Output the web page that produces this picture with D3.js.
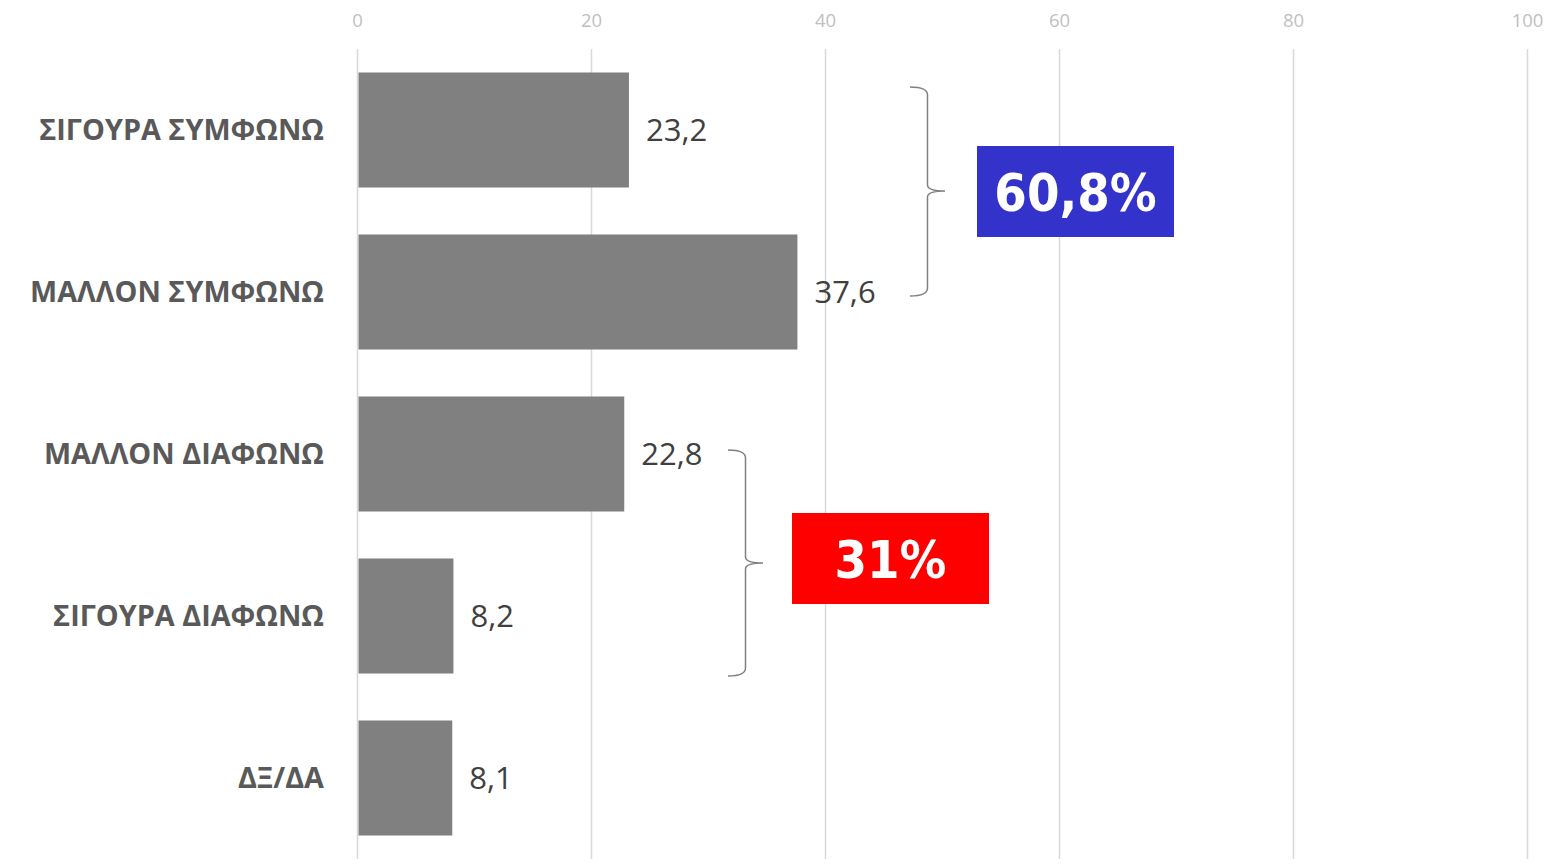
<!DOCTYPE html>
<html>
<head>
<meta charset="utf-8">
<script src="https://cdn.jsdelivr.net/npm/d3@7"></script>
<style>
  body { margin: 0; background: #fff; }
</style>
</head>
<body>
<div id="chart"></div>
<script>
const categories = ["ΣΙΓΟΥΡΑ ΣΥΜΦΩΝΩ", "ΜΑΛΛΟΝ ΣΥΜΦΩΝΩ", "ΜΑΛΛΟΝ ΔΙΑΦΩΝΩ", "ΣΙΓΟΥΡΑ ΔΙΑΦΩΝΩ", "ΔΞ/ΔΑ"];
const values = [23.2, 37.6, 22.8, 8.2, 8.1];
const ticks = [0, 20, 40, 60, 80, 100];
const groups = [
  { label: "60,8%", color: "#3333cc" },
  { label: "31%", color: "#ff0000" }
];

const W = 1556, H = 864;
const margin = { top: 49, right: 28, bottom: 5, left: 357.5 };

const svg = d3.select("#chart").append("svg")
    .attr("width", W)
    .attr("height", H);

const x = d3.scaleLinear().domain([0, 100]).range([margin.left, 1527.5]);
const y = d3.scaleBand().domain(categories)
    .range([margin.top, H - margin.bottom])
    .paddingInner(0.29).paddingOuter(0.145);

// gridlines
svg.append("g")
  .selectAll("line")
  .data(ticks)
  .enter().append("line")
    .attr("x1", d => x(d)).attr("x2", d => x(d))
    .attr("y1", margin.top).attr("y2", H - margin.bottom)
    .attr("stroke", "#d9d9d9")
    .attr("stroke-width", 1.5);

// top tick labels
svg.append("g")
  .selectAll("text")
  .data(ticks)
  .enter().append("text")
    .attr("x", d => x(d))
    .attr("y", 27)
    .attr("text-anchor", "middle")
    .style("font-family", "'Open Sans', sans-serif")
    .style("font-size", "18.5px")
    .style("fill", "#bfbfbf")
    .text(d => d);

// bars
svg.append("g")
  .selectAll("rect")
  .data(values)
  .enter().append("rect")
    .attr("x", x(0) + 1)
    .attr("y", (d, i) => y(categories[i]))
    .attr("width", d => x(d) - x(0) - 1)
    .attr("height", y.bandwidth())
    .attr("fill", "#808080");

// value labels
svg.append("g")
  .selectAll("text")
  .data(values)
  .enter().append("text")
    .attr("x", d => x(d) + 17)
    .attr("y", (d, i) => y(categories[i]) + y.bandwidth() / 2 + 11)
    .style("font-family", "'Open Sans', sans-serif")
    .style("font-size", "31px")
    .style("fill", "#404040")
    .text(d => String(d).replace(".", ","));

// category labels
svg.append("g")
  .selectAll("text")
  .data(categories)
  .enter().append("text")
    .attr("x", 324)
    .attr("y", d => y(d) + y.bandwidth() / 2 + 10)
    .attr("text-anchor", "end")
    .style("font-family", "'Open Sans', sans-serif")
    .style("font-weight", "bold")
    .style("font-size", "28.8px")
    .style("fill", "#595959")
    .text(d => d);

// curly brace opening to the left, tip pointing right
function brace(x0, top, bot, tip, w) {
  const h = w / 2;
  return `M${x0},${top} Q${x0 + h},${top} ${x0 + h},${top + 8}`
       + ` L${x0 + h},${tip - 6} Q${x0 + h},${tip} ${x0 + w},${tip}`
       + ` Q${x0 + h},${tip} ${x0 + h},${tip + 6}`
       + ` L${x0 + h},${bot - 8} Q${x0 + h},${bot} ${x0},${bot}`;
}

// annotation placement (pixels)
const braceSpec = [
  { x: 910, top: 87, bot: 296, tip: 191, boxX: 977, boxY: 146 },
  { x: 728, top: 450, bot: 676, tip: 563, boxX: 792, boxY: 513 }
];

groups.forEach((g, i) => {
  const b = braceSpec[i];
  svg.append("path")
    .attr("d", brace(b.x, b.top, b.bot, b.tip, 35))
    .attr("fill", "none")
    .attr("stroke", "#808080")
    .attr("stroke-width", 1.5);

  svg.append("rect")
    .attr("x", b.boxX).attr("y", b.boxY)
    .attr("width", 197).attr("height", 91)
    .attr("fill", g.color);
  svg.append("text")
    .attr("x", b.boxX + 98.5)
    .attr("y", b.boxY + 45.5 + 19)
    .attr("text-anchor", "middle")
    .style("font-family", "'DejaVu Sans Condensed', 'DejaVu Sans', sans-serif")
    .style("font-stretch", "condensed")
    .style("font-weight", "bold")
    .style("font-size", "52px")
    .style("fill", "#fff")
    .text(g.label);
});
</script>
</body>
</html>
